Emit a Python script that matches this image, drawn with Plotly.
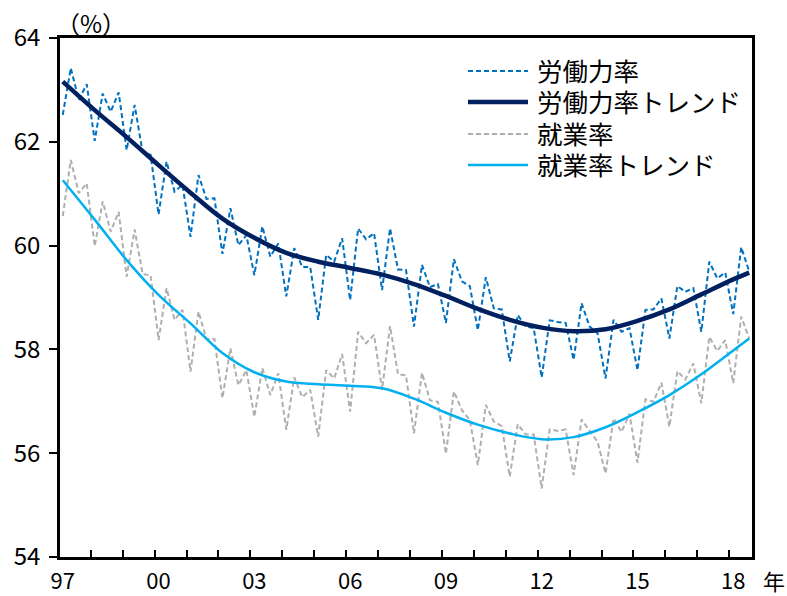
import plotly.graph_objects as go

# Quarterly observations, 1997Q1 - 2018Q3
quarters = [f"{y}Q{q}" for y in range(1997, 2019) for q in range(1, 5)][:87]

# 労働力率 (labour force participation rate, %)
labor_rate = [
    62.52, 63.42, 62.81, 63.11,
    62.02, 62.93, 62.58, 62.95,
    61.84, 62.71, 61.80, 61.75,
    60.60, 61.62, 61.04, 61.17,
    60.17, 61.36, 60.90, 60.91,
    59.84, 60.72, 60.01, 60.20,
    59.43, 60.37, 59.79, 60.04,
    59.02, 59.95, 59.59, 59.59,
    58.57, 59.82, 59.69, 60.14,
    58.95, 60.33, 60.12, 60.24,
    59.14, 60.33, 59.54, 59.53,
    58.44, 59.63, 59.20, 59.26,
    58.51, 59.74, 59.31, 59.22,
    58.37, 59.39, 58.79, 58.77,
    57.77, 58.66, 58.44, 58.41,
    57.46, 58.56, 58.53, 58.51,
    57.80, 58.89, 58.44, 58.31,
    57.44, 58.57, 58.34, 58.41,
    57.60, 58.76, 58.77, 58.98,
    58.21, 59.22, 59.11, 59.18,
    58.34, 59.69, 59.37, 59.48,
    58.68, 59.97, 59.50,
]

# 就業率 (employment rate, %)
employ_rate = [
    60.57, 61.65, 61.01, 61.20,
    59.99, 60.85, 60.27, 60.65,
    59.40, 60.31, 59.45, 59.43,
    58.18, 59.18, 58.57, 58.76,
    57.57, 58.73, 58.20, 58.20,
    57.06, 58.02, 57.31, 57.60,
    56.70, 57.64, 57.12, 57.54,
    56.45, 57.46, 57.08, 57.22,
    56.32, 57.60, 57.44, 57.91,
    56.80, 58.34, 58.12, 58.28,
    57.22, 58.45, 57.52, 57.50,
    56.38, 57.55, 57.02, 56.99,
    55.99, 57.19, 56.83, 56.64,
    55.77, 56.93, 56.61, 56.52,
    55.55, 56.56, 56.36, 56.36,
    55.32, 56.46, 56.43, 56.46,
    55.58, 56.65, 56.43, 56.22,
    55.61, 56.67, 56.41, 56.76,
    55.82, 57.04, 56.99, 57.36,
    56.51, 57.58, 57.42, 57.73,
    56.96, 58.24, 57.97, 58.18,
    57.35, 58.63, 58.21,
]

# Trend values, sampled at the first quarter of each year and the last quarter
trend_quarters = [f"{y}Q1" for y in range(1997, 2019)] + ["2018Q3"]
labor_trend = [63.16, 62.61, 62.09, 61.55, 61.02, 60.52, 60.15, 59.86, 59.69, 59.57,
               59.44, 59.26, 59.03, 58.78, 58.57, 58.42, 58.35, 58.39, 58.55, 58.77,
               59.06, 59.35, 59.48]
employ_trend = [61.26, 60.50, 59.72, 59.05, 58.50, 57.93, 57.56, 57.38, 57.33, 57.30,
                57.25, 57.05, 56.78, 56.55, 56.38, 56.27, 56.31, 56.50, 56.79, 57.12,
                57.52, 57.98, 58.21]

# Axis labels: every third year, placed on that year's first quarter
year_labels = ["97", "00", "03", "06", "09", "12", "15", "18"]
label_quarters = [f"{1997 + 3 * k}Q1" for k in range(len(year_labels))]

idx = {q: i for i, q in enumerate(quarters)}
x_obs = [idx[q] for q in quarters]
x_trend = [idx[q] for q in trend_quarters]
x_labels = [idx[q] for q in label_quarters]

FONT = "Noto Sans CJK JP"
# compact line box for the tightly stacked legend labels; kana/kanji still come from Noto CJK
LEGEND_FONT = "Roboto, Noto Sans CJK JP"

# name, line style
series_style = [
    ("労働力率", dict(color="#0070C0", width=2, dash="5px,3px")),
    ("労働力率トレンド", dict(color="#002060", width=4.5)),
    ("就業率", dict(color="#AFAFAF", width=2, dash="5px,3px")),
    ("就業率トレンド", dict(color="#00B0F0", width=2.5)),
]

fig = go.Figure()
fig.add_trace(go.Scatter(
    x=x_obs, y=labor_rate, name=series_style[0][0], mode="lines",
    line=series_style[0][1], hovertext=quarters,
))
fig.add_trace(go.Scatter(
    x=x_trend, y=labor_trend, name=series_style[1][0], mode="lines",
    line=dict(**series_style[1][1], shape="spline", smoothing=1.0),
    hovertext=trend_quarters,
))
fig.add_trace(go.Scatter(
    x=x_obs, y=employ_rate, name=series_style[2][0], mode="lines",
    line=series_style[2][1], hovertext=quarters,
))
fig.add_trace(go.Scatter(
    x=x_trend, y=employ_trend, name=series_style[3][0], mode="lines",
    line=dict(**series_style[3][1], shape="spline", smoothing=1.0),
    hovertext=trend_quarters,
))

# Legend drawn as sample lines plus labels inside the plot area
PLOT_L, PLOT_W, PLOT_T, PLOT_H = 60, 692, 38, 519


def px_x(px):
    return (px - PLOT_L) / PLOT_W


def px_y(py):
    return 1 - (py - PLOT_T) / PLOT_H


legend_rows = [71, 102, 134, 165]
shapes = []
annotations = []
for (name, style), row in zip(series_style, legend_rows):
    shapes.append(dict(
        type="line", xref="paper", yref="paper",
        x0=px_x(468), x1=px_x(528), y0=px_y(row), y1=px_y(row),
        line=style,
    ))
    annotations.append(dict(
        text=name, x=px_x(535), y=px_y(row), xref="paper", yref="paper",
        xanchor="left", yanchor="middle", showarrow=False, height=29,
        font=dict(family=LEGEND_FONT, size=25.5, color="black"),
    ))

annotations += [
    dict(text="（%）", x=px_x(91), y=px_y(23), xref="paper", yref="paper",
         xanchor="center", yanchor="middle", showarrow=False,
         font=dict(family=FONT, size=24, color="black")),
    dict(text="年", x=px_x(774), y=px_y(580), xref="paper", yref="paper",
         xanchor="center", yanchor="middle", showarrow=False,
         font=dict(family=FONT, size=22, color="black")),
]

fig.update_layout(
    width=787, height=596,
    margin=dict(l=PLOT_L, r=787 - PLOT_L - PLOT_W, t=PLOT_T, b=596 - PLOT_T - PLOT_H),
    plot_bgcolor="white", paper_bgcolor="white",
    font=dict(family=FONT, size=24, color="black"),
    showlegend=False,
    shapes=shapes,
    annotations=annotations,
)

fig.update_xaxes(
    range=[-0.35, 86.35], automargin=False,
    showline=True, linewidth=2.5, linecolor="black", mirror=True,
    tickmode="array", tickvals=x_labels, ticktext=year_labels,
    ticks="", showgrid=False, zeroline=False, ticklabelstandoff=3,
    tickfont=dict(family=FONT, size=22, color="black"),
    minor=dict(tick0=-0.5, dtick=4, ticks="inside", ticklen=7,
               tickwidth=1.5, tickcolor="black", showgrid=False),
)
fig.update_yaxes(
    range=[54, 64], dtick=2, tick0=54, automargin=False,
    showline=True, linewidth=2.5, linecolor="black", mirror=True,
    ticks="outside", ticklen=8, tickwidth=1.5, tickcolor="black",
    showgrid=False, zeroline=False, ticklabelstandoff=4,
    tickfont=dict(family=FONT, size=24, color="black"),
)

fig.write_html("out.html")
